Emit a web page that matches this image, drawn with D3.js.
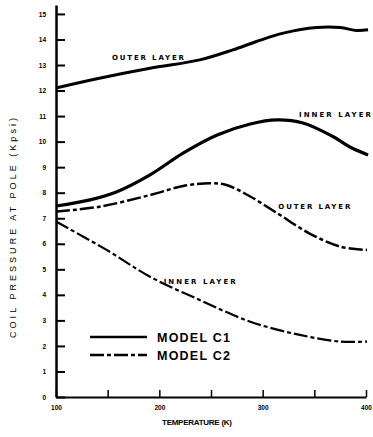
<!DOCTYPE html>
<html>
<head>
<meta charset="utf-8">
<script src="https://cdn.jsdelivr.net/npm/d3@7"></script>
<style>
  body { margin: 0; background: #fff; }
  svg { display: block; font-family: "Liberation Sans", Arial, sans-serif; }
  .axis path, .axis line { stroke: #000; }
  .axis text { font-size: 6.5px; font-weight: bold; fill: #000; }
</style>
</head>
<body>
<div id="chart"></div>
<script>
// temperature (K) and coil pressure (Kpsi)
const c1OuterT = [100, 142, 191, 239, 271, 294, 320, 352, 375, 391, 402];
const c1OuterP = [12.1, 12.48, 12.87, 13.2, 13.59, 13.92, 14.25, 14.47, 14.47, 14.35, 14.38];

const c1InnerT = [100, 133, 159, 191, 223, 256, 288, 314, 339, 368, 384, 402];
const c1InnerP = [7.48, 7.72, 8.04, 8.7, 9.55, 10.26, 10.69, 10.85, 10.73, 10.2, 9.8, 9.48];

const c2OuterT = [100, 142, 191, 223, 249, 265, 288, 314, 345, 375, 401];
const c2OuterP = [7.26, 7.45, 7.91, 8.26, 8.37, 8.3, 7.85, 7.2, 6.41, 5.89, 5.76];

const c2InnerT = [100, 149, 191, 239, 288, 336, 375, 401];
const c2InnerP = [6.87, 5.76, 4.71, 3.8, 2.95, 2.43, 2.17, 2.17];

const yTicks = d3.range(0, 16);
const xTicks = d3.range(100, 401, 50);
const xLabels = [100, 200, 300, 400];

const curveLabels = [
  { text: 'OUTER LAYER', t: 189, p: 13.18 },
  { text: 'INNER LAYER', t: 370, p: 10.95 },
  { text: 'OUTER LAYER', t: 350, p: 7.38 },
  { text: 'INNER LAYER', t: 239, p: 4.44 }
];
const legendItems = ['MODEL C1', 'MODEL C2'];

const width = 373, height = 437;
const svg = d3.select('#chart').append('svg')
  .attr('width', width)
  .attr('height', height);

const x = d3.scaleLinear().domain([100, 400]).range([56, 366]);
const y = d3.scaleLinear().domain([0, 15.35]).range([397, 5]);

// axes, ticks pointing inward
svg.append('g')
  .attr('class', 'axis axis-y')
  .attr('transform', `translate(${x(100)}, 0)`)
  .call(d3.axisLeft(y).tickValues(yTicks).tickSizeInner(-9).tickSizeOuter(0).tickPadding(10))
  .call(g => g.select('.domain').attr('stroke-width', 2.5))
  .call(g => g.selectAll('.tick line').attr('stroke-width', 2));

svg.append('g')
  .attr('class', 'axis axis-x')
  .attr('transform', `translate(0, ${y(0)})`)
  .call(d3.axisBottom(x).tickValues(xTicks).tickSizeInner(-7).tickSizeOuter(0).tickPadding(8)
    .tickFormat(d => xLabels.includes(d) ? d : ''))
  .call(g => g.select('.domain').attr('stroke-width', 2))
  .call(g => g.selectAll('.tick line').attr('stroke-width', 1.5));

const line = d3.line()
  .x(d => x(d[0]))
  .y(d => y(d[1]))
  .curve(d3.curveCatmullRom);

const zip = (a, b) => a.map((v, i) => [v, b[i]]);

const series = [
  { pts: zip(c1OuterT, c1OuterP), dash: null, w: 3 },
  { pts: zip(c1InnerT, c1InnerP), dash: null, w: 3.2 },
  { pts: zip(c2OuterT, c2OuterP), dash: '14,3,4,3', w: 2.5 },
  { pts: zip(c2InnerT, c2InnerP), dash: '14,3,4,3', w: 2.2 }
];

svg.selectAll('path.series')
  .data(series)
  .enter()
  .append('path')
  .attr('class', 'series')
  .attr('d', d => line(d.pts))
  .attr('fill', 'none')
  .attr('stroke', '#000')
  .attr('stroke-width', d => d.w)
  .attr('stroke-dasharray', d => d.dash);

// curve labels
svg.selectAll('text.clabel')
  .data(curveLabels)
  .enter()
  .append('text')
  .attr('class', 'clabel')
  .attr('x', d => x(d.t))
  .attr('y', d => y(d.p))
  .attr('text-anchor', 'middle')
  .attr('font-family', '"DejaVu Sans", sans-serif')
  .attr('font-size', 7)
  .attr('font-weight', 'bold')
  .attr('textLength', 72)
  .text(d => d.text);

// legend
const legend = svg.append('g').attr('transform', 'translate(90, 337)');
legendItems.forEach((name, i) => {
  legend.append('line')
    .attr('x1', 0).attr('x2', 57)
    .attr('y1', i * 18).attr('y2', i * 18)
    .attr('stroke', '#000')
    .attr('stroke-width', 2.5)
    .attr('stroke-dasharray', i ? '14,3,4,3' : null);
  legend.append('text')
    .attr('x', 67)
    .attr('y', i * 18 + 5)
    .attr('font-size', 12.5)
    .attr('font-weight', 'bold')
    .attr('textLength', 73)
    .text(name);
});

// axis titles
svg.append('text')
  .attr('transform', `translate(16, 228) rotate(-90)`)
  .attr('text-anchor', 'middle')
  .attr('font-size', 9)
  .attr('textLength', 220)
  .text('COIL PRESSURE AT POLE (Kpsi)');

svg.append('text')
  .attr('x', 197)
  .attr('y', 425)
  .attr('text-anchor', 'middle')
  .attr('font-size', 8)
  .attr('font-weight', 'bold')
  .attr('textLength', 70)
  .text('TEMPERATURE (K)');
</script>
</body>
</html>
